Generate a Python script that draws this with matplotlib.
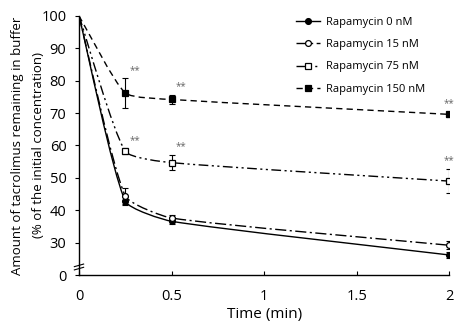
import numpy as np
import matplotlib
matplotlib.use("Agg")
import matplotlib.pyplot as plt
from matplotlib.path import Path
from matplotlib.patches import PathPatch
from matplotlib.lines import Line2D

plt.rcParams['font.family'] = ['Open Sans', 'DejaVu Sans']

time = [0, 0.25, 0.5, 2]
labels = ["Rapamycin 0 nM", "Rapamycin 15 nM", "Rapamycin 75 nM", "Rapamycin 150 nM"]
r0 = [100, 42.8, 36.6, 26.2]
r15 = [100, 44.4, 37.6, 29.2]
r75 = [100, 58.2, 54.7, 49.0]
r150 = [100, 76.2, 74.2, 69.6]
e0 = [0, 1.2, 0.8, 0.8]
e15 = [0, 2.5, 0.8, 1.3]
e75 = [0, 0.9, 2.4, 3.8]
e150 = [0, 4.5, 1.3, 0.8]
# significance marks: (series index, time index)
sig = [(3, 1), (3, 2), (3, 3), (2, 1), (2, 2), (2, 3)]

series = [r0, r15, r75, r150]
errs = [e0, e15, e75, e150]
markers = ['o', 'o', 's', 's']
mfc = ['black', 'white', 'white', 'black']
msz = [4.2, 4.2, 4.2, 4.6]
lstyles = ['-', (0, (8, 2.5, 1.5, 2.5)), (0, (7, 2.5, 1.5, 2.5, 1.5, 2.5)), (0, (4.5, 3))]

# y axis break: value 0 shown at the position of 20
Y0 = 20


def smooth_path(ax, x, y, f=0.17):
    """Chord-length scaled Catmull-Rom Bezier (computed in display space)."""
    tr = ax.transData
    P = tr.transform(np.column_stack([x, y]))
    n = len(P)
    T = []
    for k in range(n):
        if k == 0:
            d = P[1] - P[0]
        elif k == n - 1:
            d = P[-1] - P[-2]
        else:
            d = P[k + 1] - P[k - 1]
        T.append(d / np.hypot(*d))
    verts = [P[0]]
    codes = [Path.MOVETO]
    for k in range(n - 1):
        L = np.hypot(*(P[k + 1] - P[k]))
        verts += [P[k] + T[k] * L * f, P[k + 1] - T[k + 1] * L * f, P[k + 1]]
        codes += [Path.CURVE4] * 3
    verts = tr.inverted().transform(np.array(verts))
    return Path(verts, codes)


fig = plt.figure(figsize=(4.55, 3.24), dpi=100)
ax = fig.add_axes([0.1736, 0.151, 0.814, 0.80])
ax.set_xlim(0, 2.0)
ax.set_ylim(Y0, 100)

for i, (ys, es) in enumerate(zip(series, errs)):
    p = smooth_path(ax, time, ys)
    ax.add_patch(PathPatch(p, fill=False, edgecolor='black', lw=1.0,
                           linestyle=lstyles[i], zorder=2))
    ax.errorbar(time[1:], ys[1:], yerr=es[1:], fmt='none', ecolor='black',
                elinewidth=0.8, capsize=2.5, capthick=0.8, zorder=3)
    ax.plot(time[1:], ys[1:], linestyle='none', marker=markers[i],
            markersize=msz[i], markerfacecolor=mfc[i], markeredgecolor='black',
            markeredgewidth=0.9, zorder=4)

for si, ti in sig:
    off = (3, 2) if ti < 3 else (0, 2)
    ax.annotate('**', (time[ti], series[si][ti] + errs[si][ti]),
                xytext=off, textcoords='offset points', fontsize=7,
                color='#666666', ha='left' if ti < 3 else 'center', va='bottom',
                annotation_clip=False)

ax.set_xticks([0, 0.5, 1, 1.5, 2])
ax.set_xticklabels(['0', '0.5', '1', '1.5', '2'])
ax.set_yticks([Y0, 30, 40, 50, 60, 70, 80, 90, 100])
ax.set_yticklabels(['0', '30', '40', '50', '60', '70', '80', '90', '100'])
ax.tick_params(axis='x', direction='in', length=3, width=0.8, labelsize=10.5, pad=10)
ax.tick_params(axis='y', direction='out', length=3, width=0.8, labelsize=10.5, pad=6)
for s in ['top', 'right']:
    ax.spines[s].set_visible(False)
for s in ['left', 'bottom']:
    ax.spines[s].set_linewidth(1.0)

# axis break marks
for dy in (0, 1.0):
    ax.plot([-0.025, 0.025], [Y0 + 1.6 + dy, Y0 + 2.4 + dy], color='black',
            lw=0.8, transform=ax.transData, clip_on=False, zorder=5)

ax.set_xlabel('Time (min)', fontsize=11, labelpad=2)
ax.set_ylabel('Amount of tacrolimus remaining in buffer\n(% of the initial concentration)',
              fontsize=9.5, linespacing=1.75)
ax.yaxis.set_label_coords(-0.092, 0.5)

handles = [Line2D([], [], color='black', lw=1.0, linestyle=lstyles[i], marker=markers[i],
                  markersize=msz[i], markerfacecolor=mfc[i], markeredgecolor='black',
                  markeredgewidth=0.9) for i in range(4)]
ax.legend(handles, labels, loc='upper left', bbox_to_anchor=(0.574, 1.012), frameon=False,
          fontsize=8, handlelength=2.2, handletextpad=0.5, labelspacing=1.0,
          borderaxespad=0)

fig.savefig('out.png', dpi=100)
